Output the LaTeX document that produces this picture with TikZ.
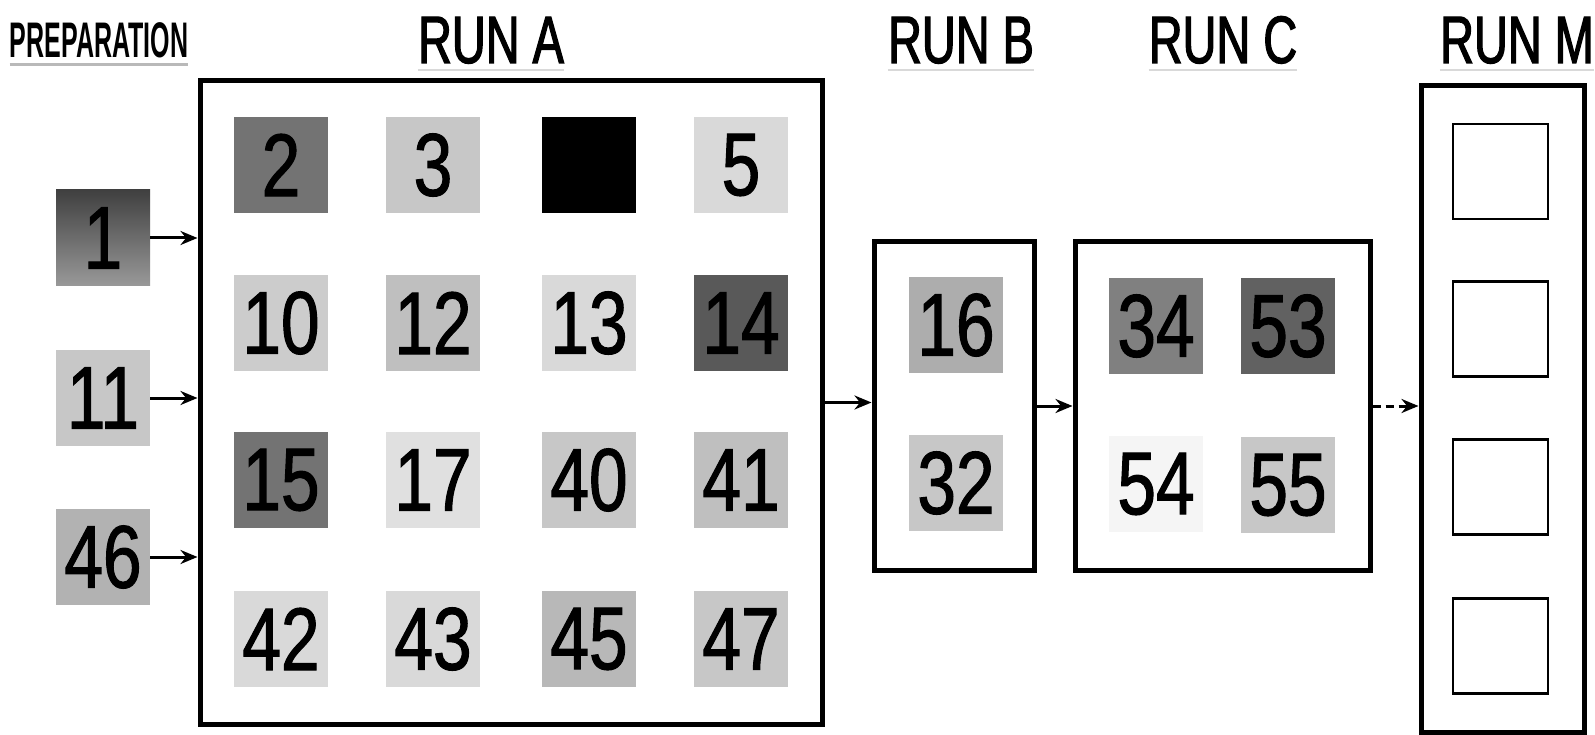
\documentclass[tikz,border=0pt]{standalone}
\usepackage{fontspec}
\setmainfont{Liberation Sans}
\newfontfamily\numfont[FakeStretch=0.78,FakeBold=1.2]{Liberation Sans}
\newfontfamily\runfont[FakeStretch=0.7,FakeBold=1.8]{Liberation Sans}
\newfontfamily\prepfont[FakeStretch=0.5,UprightFont={* Bold}]{Liberation Sans}
\usetikzlibrary{arrows.meta}

\tikzset{
  cell/.style={minimum width=94pt, minimum height=96pt, inner sep=0pt,
    font=\numfont\fontsize{89}{89}\selectfont},
  runbox/.style={draw, line width=5pt},
  slot/.style={draw, line width=2.5pt, minimum width=95pt, minimum height=95pt},
  flow/.style={line width=3pt, -{Stealth[length=17pt,width=14pt]}},
  runtitle/.style={anchor=base, inner sep=0pt, font=\runfont\fontsize{67}{67}\selectfont},
  underline/.style={gray!30, line width=2pt}
}

\begin{document}
\begin{tikzpicture}[x=1pt,y=-1pt]
    \useasboundingbox (0,0) rectangle (1595,735);

    % Titles
    \node[anchor=base, inner sep=0pt, font=\prepfont\fontsize{50}{50}\selectfont] (prep) at (99,58) {PREPARATION};
    \node[runtitle] (tA) at (491,63) {RUN A};
    \node[runtitle] (tB) at (961,63) {RUN B};
    \node[runtitle] (tC) at (1223,63) {RUN C};
    \node[runtitle] (tM) at (1517,63) {RUN M};
    \draw[gray!55, line width=3pt] ([yshift=-6pt]prep.south west) -- ([yshift=-6pt]prep.south east);
    \foreach \t in {tA,tB,tC,tM}
        \draw[underline] ([yshift=-6pt]\t.south west) -- ([yshift=-6pt]\t.south east);

    % Run boxes
    \node[runbox, minimum width=622pt, minimum height=643pt] (runA) at (511,402.5) {};
    \node[runbox, minimum width=160pt, minimum height=328pt] (runB) at (954,406) {};
    \node[runbox, minimum width=295pt, minimum height=328pt] (runC) at (1222.5,406) {};
    \node[runbox, minimum width=163pt, minimum height=646pt] (runM) at (1502.5,409) {};

    % Preparation cells
    \node[cell, top color=black!75, bottom color=black!40, shading angle=0] (c1) at (103,238) {1};
    \node[cell, fill=black!22] (c11) at (103,398) {11};
    \node[cell, fill=black!30] (c46) at (103,557) {46};

    % Numbered cells of the runs
    \foreach \n/\x/\y/\g in {2/281/165/55, 3/433/165/22, 5/741/165/15,
        10/281/323/20, 12/433/323/25, 13/589/323/15, 14/741/323/65,
        15/281/480/55, 17/433/480/12, 40/589/480/22, 41/741/480/25,
        42/281/639/15, 43/433/639/15, 45/589/639/28, 47/741/639/22,
        16/956/325/32, 32/956/483/22,
        34/1156/326/50, 53/1288/326/62, 54/1156/484/4, 55/1288/485/22}
        \node[cell, fill=black!\g] (c\n) at (\x,\y) {\n};
    \node[cell, fill=black] (c4) at (589,165) {};

    % Empty slots of run M
    \foreach \y [count=\i] in {171.5,329,487,646}
        \node[slot] (m\i) at (1500.5,\y) {};

    % Connectors
    \foreach \c in {c1,c11,c46}
        \draw[flow] (\c.east) -- (\c.east -| runA.west);
    \draw[flow] (runA.east) -- (runA.east -| runB.west);
    \draw[flow] (runB.east) -- (runB.east -| runC.west);
    \draw[flow, dash pattern=on 8pt off 5pt] (runC.east) -- (runC.east -| runM.west);
\end{tikzpicture}
\end{document}
